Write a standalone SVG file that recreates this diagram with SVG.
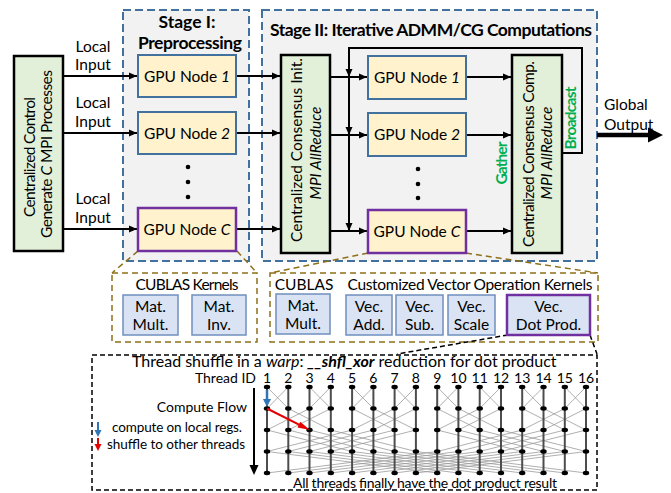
<svg xmlns="http://www.w3.org/2000/svg" width="671" height="493" viewBox="0 0 671 493">
<style>
text{font-family:Lato,"Liberation Sans",sans-serif;fill:#000}
.t{font-size:15.5px}
.s{font-size:14px}
.b{font-weight:bold}
.i{font-style:italic}
.stage{fill:#f2f2f2;stroke:#41719c;stroke-width:2;stroke-dasharray:8 4}
.gpu{fill:#fff2cc;stroke:#41719c;stroke-width:2}
.gpuc{fill:#fff2cc;stroke:#7030a0;stroke-width:2.5}
.ctl{fill:#e2f0d9;stroke:#000;stroke-width:2.5}
.kb{fill:#dae3f3;stroke:#6f8fbf;stroke-width:1.5}
.kbc{fill:#dae3f3;stroke:#7030a0;stroke-width:2.5}
.brown{fill:none;stroke:#8f6f1a;stroke-width:1.5;stroke-dasharray:6 4}
.blk{fill:none;stroke:#000;stroke-width:1.5;stroke-dasharray:5 3}
.con{fill:none;stroke:#000;stroke-width:2}
.green{fill:#00b050;font-weight:bold;font-size:15.5px}
.vert{fill:none;stroke:#4d4d4d;stroke-width:2;marker-start:url(#dot);marker-mid:url(#dot);marker-end:url(#dot)}
.cross{fill:none;stroke:#9a9a9a;stroke-width:0.8}
.num{font-size:14px;text-anchor:middle}
</style>
<defs>
<marker id="arr" markerUnits="userSpaceOnUse" markerWidth="9" markerHeight="8" refX="8" refY="4" orient="auto"><path d="M0,0.5 L8,4 L0,7.5 z" fill="#000"/></marker>
<marker id="dot" markerUnits="userSpaceOnUse" markerWidth="8" markerHeight="6" refX="4" refY="3" orient="0"><ellipse cx="4" cy="3" rx="3.2" ry="2.2" fill="#000"/></marker>
</defs>

<!-- Stage containers -->
<g id="stage1">
<rect class="stage" x="123" y="10" width="126" height="251"/>
<text class="b" x="187" y="28" text-anchor="middle" font-size="17.5">Stage I:</text>
<text class="b" x="190" y="49" text-anchor="middle" font-size="17.5" textLength="104">Preprocessing</text>
</g>
<g id="stage2">
<rect class="stage" x="262" y="10" width="335" height="251"/>
<text class="b" x="270" y="36" font-size="17.5" textLength="322">Stage II: Iterative ADMM/CG Computations</text>
</g>

<!-- Zoom-out dashed outlines -->
<g id="callouts">
<path class="brown" d="M138,251 L112,273 M237,251 L257,273 M368,253 L270,273 M466,253 L598,273"/>
<rect class="brown" x="112" y="273" width="145" height="69"/>
<rect class="brown" x="270" y="273" width="328" height="69"/>
<path class="blk" d="M508,335 L397,354 M590,335 L597,354"/>
</g>

<!-- Connectors -->
<g id="connectors">
<path class="con" d="M63,76 H137" marker-end="url(#arr)"/>
<path class="con" d="M63,133 H137" marker-end="url(#arr)"/>
<path class="con" d="M63,229 H137" marker-end="url(#arr)"/>
<path class="con" d="M236,76 H280" marker-end="url(#arr)"/>
<path class="con" d="M236,133 H280" marker-end="url(#arr)"/>
<path class="con" d="M236,229 H280" marker-end="url(#arr)"/>
<path class="con" d="M330,77 H367" marker-end="url(#arr)"/>
<path class="con" d="M330,135 H367" marker-end="url(#arr)"/>
<path class="con" d="M330,231 H367" marker-end="url(#arr)"/>
<path class="con" d="M466,77 H511" marker-end="url(#arr)"/>
<path class="con" d="M466,135 H511" marker-end="url(#arr)"/>
<path class="con" d="M466,231 H511" marker-end="url(#arr)"/>
<path class="con" d="M562,153 H582 V48 H349"/>
<path class="con" d="M349,47 V77" marker-end="url(#arr)"/>
<path class="con" d="M349,77 V135" marker-end="url(#arr)"/>
<path class="con" d="M349,135 V231" marker-end="url(#arr)"/>
<path d="M597,135 H650" stroke="#000" stroke-width="4.5" fill="none"/>
<polygon points="648,127.5 663,135 648,142.5" fill="#000"/>
</g>

<!-- Control node -->
<g id="control">
<rect class="ctl" x="14" y="56" width="49" height="195"/>
<text class="t" transform="translate(35,157) rotate(-90)" text-anchor="middle" textLength="120">Centralized Control</text>
<text class="t" transform="translate(52,154) rotate(-90)" text-anchor="middle" textLength="168">Generate <tspan class="i">C</tspan> MPI Processes</text>
</g>

<!-- Local input labels -->
<g id="labels-input">
<text class="t" x="93" y="52" text-anchor="middle">Local</text>
<text class="t" x="93" y="70" text-anchor="middle">Input</text>
<text class="t" x="93" y="108" text-anchor="middle">Local</text>
<text class="t" x="93" y="127" text-anchor="middle">Input</text>
<text class="t" x="93" y="204" text-anchor="middle">Local</text>
<text class="t" x="93" y="223" text-anchor="middle">Input</text>
</g>

<!-- Stage I nodes -->
<g id="s1-node1"><rect class="gpu" x="138" y="55" width="98" height="42"/><text class="t" x="187" y="81.5" text-anchor="middle">GPU Node <tspan class="i">1</tspan></text></g>
<g id="s1-node2"><rect class="gpu" x="138" y="112" width="98" height="42"/><text class="t" x="187" y="138.5" text-anchor="middle">GPU Node <tspan class="i">2</tspan></text></g>
<g id="s1-dots"><circle cx="188" cy="167" r="2.3"/><circle cx="188" cy="182" r="2.3"/><circle cx="188" cy="197" r="2.3"/></g>
<g id="s1-nodeC"><rect class="gpuc" x="138" y="208" width="98" height="43"/><text class="t" x="187" y="235" text-anchor="middle">GPU Node <tspan class="i">C</tspan></text></g>

<!-- Consensus init -->
<g id="init">
<rect class="ctl" x="281" y="55" width="49" height="198"/>
<text class="t" transform="translate(302,150) rotate(-90)" text-anchor="middle" textLength="184">Centralized Consensus Init.</text>
<text class="t i" transform="translate(321,153) rotate(-90)" text-anchor="middle" textLength="93">MPI AllReduce</text>
</g>

<!-- Stage II nodes -->
<g id="s2-node1"><rect class="gpu" x="368" y="56" width="98" height="43"/><text class="t" x="417" y="83" text-anchor="middle">GPU Node <tspan class="i">1</tspan></text></g>
<g id="s2-node2"><rect class="gpu" x="368" y="113" width="98" height="43"/><text class="t" x="417" y="140" text-anchor="middle">GPU Node <tspan class="i">2</tspan></text></g>
<g id="s2-dots"><circle cx="418" cy="169" r="2.3"/><circle cx="418" cy="184" r="2.3"/><circle cx="418" cy="198" r="2.3"/></g>
<g id="s2-nodeC"><rect class="gpuc" x="368" y="210" width="98" height="43"/><text class="t" x="417" y="237" text-anchor="middle">GPU Node <tspan class="i">C</tspan></text></g>

<!-- Consensus comp -->
<g id="comp">
<rect class="ctl" x="512" y="55" width="50" height="198"/>
<text class="t" transform="translate(534,154) rotate(-90)" text-anchor="middle" textLength="186">Centralized Consensus Comp.</text>
<text class="t i" transform="translate(552,153) rotate(-90)" text-anchor="middle" textLength="93">MPI AllReduce</text>
<text class="green" transform="translate(507,163) rotate(-90)" text-anchor="middle" textLength="43">Gather</text>
<text class="green" transform="translate(576,118) rotate(-90)" text-anchor="middle" textLength="63">Broadcast</text>
</g>

<g id="global-output">
<text class="t" x="604" y="110">Global</text>
<text class="t" x="604" y="130">Output</text>
</g>

<!-- CUBLAS kernels -->
<g id="cublas1">
<text class="t" x="187" y="290" text-anchor="middle" textLength="103">CUBLAS Kernels</text>
<rect class="kb" x="123" y="295" width="55" height="40"/>
<text class="t" x="150.5" y="312" text-anchor="middle">Mat.</text><text class="t" x="150.5" y="330" text-anchor="middle">Mult.</text>
<rect class="kb" x="192" y="295" width="54" height="40"/>
<text class="t" x="219" y="312" text-anchor="middle">Mat.</text><text class="t" x="219" y="330" text-anchor="middle">Inv.</text>
</g>
<g id="cublas2">
<text class="t" x="304" y="290" text-anchor="middle">CUBLAS</text>
<text class="t" x="470" y="290" text-anchor="middle" textLength="245">Customized Vector Operation Kernels</text>
<rect class="kb" x="276" y="294" width="54" height="40"/>
<text class="t" x="303" y="311" text-anchor="middle">Mat.</text><text class="t" x="303" y="329" text-anchor="middle">Mult.</text>
<rect class="kb" x="346" y="295" width="46" height="40"/>
<text class="t" x="369" y="312" text-anchor="middle">Vec.</text><text class="t" x="369" y="330" text-anchor="middle">Add.</text>
<rect class="kb" x="396" y="295" width="47" height="40"/>
<text class="t" x="419.5" y="312" text-anchor="middle">Vec.</text><text class="t" x="419.5" y="330" text-anchor="middle">Sub.</text>
<rect class="kb" x="448" y="295" width="47" height="40"/>
<text class="t" x="471.5" y="312" text-anchor="middle">Vec.</text><text class="t" x="471.5" y="330" text-anchor="middle">Scale</text>
<rect class="kbc" x="507" y="295" width="83" height="40"/>
<text class="t" x="548.5" y="312" text-anchor="middle">Vec.</text><text class="t" x="548.5" y="330" text-anchor="middle">Dot Prod.</text>
</g>

<!-- Thread shuffle -->
<g id="shuffle">
<rect class="blk" x="92" y="355" width="505" height="135"/>
<text x="132" y="366.5" font-size="16">Thread shuffle in a <tspan class="i">warp</tspan>: <tspan class="b i">__shfl_xor</tspan> reduction for dot product</text>
<text class="s" x="256" y="383" text-anchor="end">Thread ID</text>
<text class="num" y="383"><tspan x="267">1</tspan><tspan x="288.3">2</tspan><tspan x="309.5">3</tspan><tspan x="330.8">4</tspan><tspan x="352.1">5</tspan><tspan x="373.4">6</tspan><tspan x="394.6">7</tspan><tspan x="415.9">8</tspan><tspan x="437.2">9</tspan><tspan x="458.4">10</tspan><tspan x="479.7">11</tspan><tspan x="501">12</tspan><tspan x="522.2">13</tspan><tspan x="543.5">14</tspan><tspan x="564.8">15</tspan><tspan x="586">16</tspan></text>
<text class="s" x="247" y="412" text-anchor="end">Compute Flow</text>
<path d="M254,388 V466" stroke="#000" stroke-width="2"/>
<polygon points="249.5,465 258.5,465 254,475" fill="#000"/>
<path d="M98,422 V431" stroke="#2e75b6" stroke-width="2"/><polygon points="94.5,430 101.5,430 98,437" fill="#2e75b6"/>
<path d="M98,438 V445" stroke="#e60000" stroke-width="2"/><polygon points="94.5,444 101.5,444 98,451" fill="#e60000"/>
<text x="112" y="432" font-size="13.5" textLength="130">compute on local regs.</text>
<text x="107" y="449" font-size="13.5" textLength="138">shuffle to other threads</text>
<path class="cross" d="M267 387L288.3 408.5M288.3 387L267 408.5M309.5 387L330.8 408.5M330.8 387L309.5 408.5M352.1 387L373.4 408.5M373.4 387L352.1 408.5M394.6 387L415.9 408.5M415.9 387L394.6 408.5M437.2 387L458.4 408.5M458.4 387L437.2 408.5M479.7 387L501 408.5M501 387L479.7 408.5M522.2 387L543.5 408.5M543.5 387L522.2 408.5M564.8 387L586 408.5M586 387L564.8 408.5"/>
<path class="cross" d="M267 408.5L309.5 430M309.5 408.5L267 430M288.3 408.5L330.8 430M330.8 408.5L288.3 430M352.1 408.5L394.6 430M394.6 408.5L352.1 430M373.4 408.5L415.9 430M415.9 408.5L373.4 430M437.2 408.5L479.7 430M479.7 408.5L437.2 430M458.4 408.5L501 430M501 408.5L458.4 430M522.2 408.5L564.8 430M564.8 408.5L522.2 430M543.5 408.5L586 430M586 408.5L543.5 430"/>
<path class="cross" d="M267 430L352.1 451.5M352.1 430L267 451.5M288.3 430L373.4 451.5M373.4 430L288.3 451.5M309.5 430L394.6 451.5M394.6 430L309.5 451.5M330.8 430L415.9 451.5M415.9 430L330.8 451.5M437.2 430L522.2 451.5M522.2 430L437.2 451.5M458.4 430L543.5 451.5M543.5 430L458.4 451.5M479.7 430L564.8 451.5M564.8 430L479.7 451.5M501 430L586 451.5M586 430L501 451.5"/>
<path class="cross" d="M267 451.5L437.2 473M437.2 451.5L267 473M288.3 451.5L458.4 473M458.4 451.5L288.3 473M309.5 451.5L479.7 473M479.7 451.5L309.5 473M330.8 451.5L501 473M501 451.5L330.8 473M352.1 451.5L522.2 473M522.2 451.5L352.1 473M373.4 451.5L543.5 473M543.5 451.5L373.4 473M394.6 451.5L564.8 473M564.8 451.5L394.6 473M415.9 451.5L586 473M586 451.5L415.9 473"/>
<path class="vert" d="M267 387V408.5V430V451.5V473"/>
<path class="vert" d="M288.3 387V408.5V430V451.5V473"/>
<path class="vert" d="M309.5 387V408.5V430V451.5V473"/>
<path class="vert" d="M330.8 387V408.5V430V451.5V473"/>
<path class="vert" d="M352.1 387V408.5V430V451.5V473"/>
<path class="vert" d="M373.4 387V408.5V430V451.5V473"/>
<path class="vert" d="M394.6 387V408.5V430V451.5V473"/>
<path class="vert" d="M415.9 387V408.5V430V451.5V473"/>
<path class="vert" d="M437.2 387V408.5V430V451.5V473"/>
<path class="vert" d="M458.4 387V408.5V430V451.5V473"/>
<path class="vert" d="M479.7 387V408.5V430V451.5V473"/>
<path class="vert" d="M501 387V408.5V430V451.5V473"/>
<path class="vert" d="M522.2 387V408.5V430V451.5V473"/>
<path class="vert" d="M543.5 387V408.5V430V451.5V473"/>
<path class="vert" d="M564.8 387V408.5V430V451.5V473"/>
<path class="vert" d="M586 387V408.5V430V451.5V473"/>
<path d="M267,390 V400" stroke="#2e75b6" stroke-width="2.5"/><polygon points="263,399 271,399 267,407" fill="#2e75b6"/>
<path d="M267,408.5 L302,426.2" stroke="#e60000" stroke-width="2"/><polygon points="300.2,421.7 310,430 297.5,427.4" fill="#e60000"/>
<text class="s" x="425" y="487.5" text-anchor="middle" textLength="264">All threads finally have the dot product result</text>
</g>
</svg>
